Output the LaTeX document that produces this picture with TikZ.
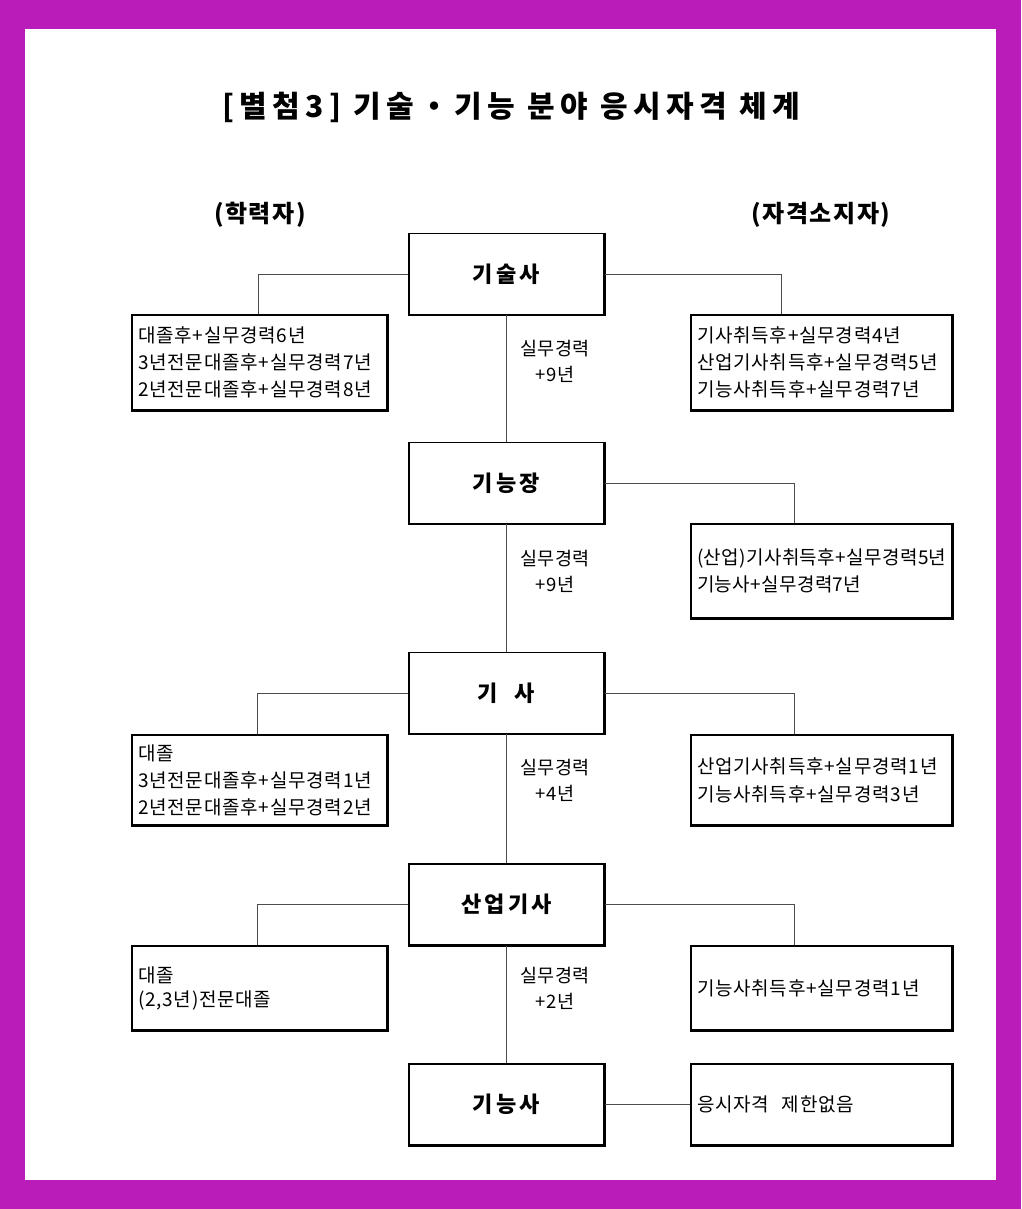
\documentclass[tikz,border=0pt]{standalone}
\usepackage{fontspec}
\setmainfont{Noto Sans CJK KR}
\usetikzlibrary{positioning}
\definecolor{framepurple}{RGB}{186,28,186}

\begin{document}
\begin{tikzpicture}[x=1pt,y=-1pt,
  rankbox/.style={
    rectangle,
    draw,
    line width=1.2pt,
    inner sep=0pt,
    minimum width=195pt,
    minimum height=81pt,
    font=\fontsize{22}{26}\selectfont\bfseries\addfontfeature{LetterSpace=15}
  },
  condbox/.style={
    rectangle,
    draw,
    line width=1.2pt,
    inner xsep=6pt,
    inner ysep=0pt,
    align=left,
    font=\fontsize{19}{27}\selectfont\addfontfeature{LetterSpace=4}
  },
  leftbox/.style={condbox, text width=243pt},
  rightbox/.style={condbox, text width=249pt},
  link/.style={draw=black!70, line width=0.9pt},
  steplabel/.style={align=center, font=\fontsize{18.5}{26}\selectfont\addfontfeature{LetterSpace=3}},
  heading/.style={font=\fontsize{24}{28}\selectfont\bfseries\addfontfeature{LetterSpace=6}}
  ]
  % frame
  \fill[framepurple] (0,0) rectangle (1021,1209);
  \fill[white] (25,29) rectangle (996,1180);
  \useasboundingbox (0,0) rectangle (1021,1209);

  % title and column headings
  \node (title) at (511,107) {\fontsize{30}{34}\selectfont\bfseries\addfontfeature{LetterSpace=18}[별첨3] 기술・기능 분야 응시자격 체계};
  \node[heading] (edu) at (260,215) {(학력자)};
  \node[heading] (qual) at (821,215) {(자격소지자)};

  % grades
  \node[rankbox] (tech) at (506.5,274) {기술사};
  \node[rankbox] (master) at (506.5,483) {기능장};
  \node[rankbox] (engineer) at (506.5,693) {기\ \ 사};
  \node[rankbox] (industrial) at (506.5,904.5) {산업기사};
  \node[rankbox] (craftsman) at (506.5,1104.5) {기능사};

  % education side
  \node[leftbox, minimum height=95pt] (edutech) at (259.5,362.5) {대졸후+실무경력6년\\3년전문대졸후+실무경력7년\\2년전문대졸후+실무경력8년};
  \node[leftbox, minimum height=90pt] (eduengineer) at (259.5,780) {대졸\\3년전문대졸후+실무경력1년\\2년전문대졸후+실무경력2년};
  \node[leftbox, minimum height=84pt, font=\fontsize{19}{24}\selectfont\addfontfeature{LetterSpace=4}] (eduindustrial) at (259.5,988) {대졸\\(2,3년)전문대졸};

  % qualification side
  \node[rightbox, minimum height=95pt] (qualtech) at (821.5,362.5) {기사취득후+실무경력4년\\산업기사취득후+실무경력5년\\기능사취득후+실무경력7년};
  \node[rightbox, minimum height=94pt, font=\fontsize{19}{27}\selectfont\addfontfeature{LetterSpace=2}] (qualmaster) at (821.5,571) {(산업)기사취득후+실무경력5년\\기능사+실무경력7년};
  \node[rightbox, minimum height=90pt, font=\fontsize{19}{28}\selectfont\addfontfeature{LetterSpace=4}] (qualengineer) at (821.5,780) {산업기사취득후+실무경력1년\\기능사취득후+실무경력3년};
  \node[rightbox, minimum height=84pt] (qualindustrial) at (821.5,988) {기능사취득후+실무경력1년};
  \node[rightbox, minimum height=81pt] (qualcraftsman) at (821.5,1104.5) {응시자격\ \ 제한없음};

  % shadow edges
  \foreach \n in {tech,master,engineer,industrial,craftsman,edutech,eduengineer,eduindustrial,qualtech,qualmaster,qualengineer,qualindustrial,qualcraftsman}
    \draw[line width=2.6pt] (\n.north east) -- (\n.south east) -- (\n.south west);

  % main line
  \draw[link] (tech) -- (master);
  \draw[link] (master) -- (engineer);
  \draw[link] (engineer) -- (industrial);
  \draw[link] (industrial) -- (craftsman);

  % branches
  \draw[link] (tech.west) -| ([xshift=-1.5pt]edutech.north);
  \draw[link] (tech.east) -| ([xshift=91pt]qualtech.north west);
  \draw[link] (master.east) -| ([xshift=104pt]qualmaster.north west);
  \draw[link] (engineer.west) -| ([xshift=-2.5pt]eduengineer.north);
  \draw[link] (engineer.east) -| ([xshift=104pt]qualengineer.north west);
  \draw[link] (industrial.west) -| ([xshift=-2.5pt]eduindustrial.north);
  \draw[link] (industrial.east) -| ([xshift=104pt]qualindustrial.north west);
  \draw[link] (craftsman) -- (qualcraftsman);

  % experience labels
  \node[steplabel] (exp1) at (555,361.5) {실무경력\\+9년};
  \node[steplabel] (exp2) at (555,571.5) {실무경력\\+9년};
  \node[steplabel] (exp3) at (555,780.5) {실무경력\\+4년};
  \node[steplabel] (exp4) at (555,988.5) {실무경력\\+2년};
\end{tikzpicture}
\end{document}
